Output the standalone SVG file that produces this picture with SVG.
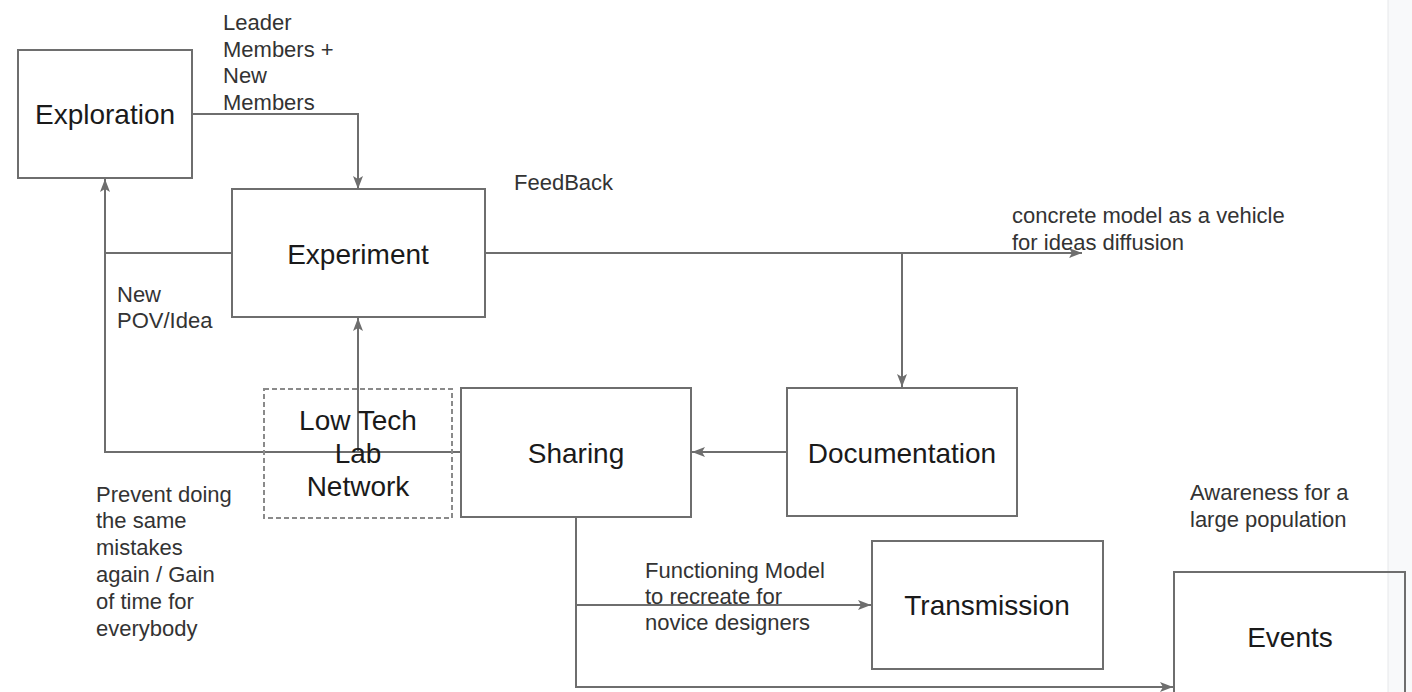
<svg xmlns="http://www.w3.org/2000/svg" width="1412" height="692" viewBox="0 0 1412 692">
<style>
.box{fill:none;stroke:#6e6e6e;stroke-width:2}
.dash{fill:none;stroke:#8a8a8a;stroke-width:2;stroke-dasharray:5 3}
.edge{fill:none;stroke:#6e6e6e;stroke-width:2}
.node{font-family:"Liberation Sans",Arial,sans-serif;font-size:28px;fill:#1a1a1a;text-anchor:middle}
.lbl{font-family:"Liberation Sans",Arial,sans-serif;font-size:22px;fill:#333}
</style>
<defs>
<marker id="arr" markerUnits="userSpaceOnUse" markerWidth="14" markerHeight="12" refX="13" refY="6" orient="auto">
<path d="M0,1 L13,6 L0,11 L3,6 Z" fill="#6e6e6e"/>
</marker>
</defs>
<rect width="1412" height="692" fill="#ffffff"/>
<rect x="1388" y="0" width="24" height="692" fill="#f8f9fa"/>
<line x1="1388" y1="0" x2="1388" y2="692" stroke="#e6e8ea" stroke-width="1"/>

<g id="connectors">
<path class="edge" d="M192,114 H358 V189" marker-end="url(#arr)"/>
<path class="edge" d="M232,253 H105 V179" marker-end="url(#arr)"/>
<path class="edge" d="M461,452 H105 V253"/>
<path class="edge" d="M461,452 H358 V318" marker-end="url(#arr)"/>
<path class="edge" d="M485,253 H1082" marker-end="url(#arr)"/>
<path class="edge" d="M485,253 H902 V387" marker-end="url(#arr)"/>
<path class="edge" d="M787,452 H692" marker-end="url(#arr)"/>
<path class="edge" d="M576,517 V605 H871" marker-end="url(#arr)"/>
<path class="edge" d="M576,517 V687 H1173" marker-end="url(#arr)"/>
</g>

<g id="exploration">
<rect class="box" x="18" y="50" width="174" height="128"/>
<text class="node" x="105" y="124">Exploration</text>
</g>
<g id="experiment">
<rect class="box" x="232" y="189" width="253" height="128"/>
<text class="node" x="358" y="264">Experiment</text>
</g>
<g id="lowtech">
<rect class="dash" x="264" y="389" width="188" height="129"/>
<text class="node" x="358" y="430">Low Tech</text>
<text class="node" x="358" y="463">Lab</text>
<text class="node" x="358" y="496">Network</text>
</g>
<g id="sharing">
<rect class="box" x="461" y="388" width="230" height="129"/>
<text class="node" x="576" y="463">Sharing</text>
</g>
<g id="documentation">
<rect class="box" x="787" y="388" width="230" height="128"/>
<text class="node" x="902" y="463">Documentation</text>
</g>
<g id="transmission">
<rect class="box" x="872" y="541" width="231" height="128"/>
<text class="node" x="987" y="615">Transmission</text>
</g>
<g id="events">
<rect class="box" x="1174" y="572" width="231" height="140"/>
<text class="node" x="1290" y="647">Events</text>
</g>

<g id="labels">
<text class="lbl" x="223" y="30">Leader</text>
<text class="lbl" x="223" y="57">Members +</text>
<text class="lbl" x="223" y="83">New</text>
<text class="lbl" x="223" y="110">Members</text>
<text class="lbl" x="514" y="190">FeedBack</text>
<text class="lbl" x="1012" y="223">concrete model as a vehicle</text>
<text class="lbl" x="1012" y="250">for ideas diffusion</text>
<text class="lbl" x="117" y="302">New</text>
<text class="lbl" x="117" y="328">POV/Idea</text>
<text class="lbl" x="96" y="502">Prevent doing</text>
<text class="lbl" x="96" y="528">the same</text>
<text class="lbl" x="96" y="555">mistakes</text>
<text class="lbl" x="96" y="582">again / Gain</text>
<text class="lbl" x="96" y="609">of time for</text>
<text class="lbl" x="96" y="636">everybody</text>
<text class="lbl" x="645" y="578">Functioning Model</text>
<text class="lbl" x="645" y="604">to recreate for</text>
<text class="lbl" x="645" y="630">novice designers</text>
<text class="lbl" x="1190" y="500">Awareness for a</text>
<text class="lbl" x="1190" y="527">large population</text>
</g>
</svg>
